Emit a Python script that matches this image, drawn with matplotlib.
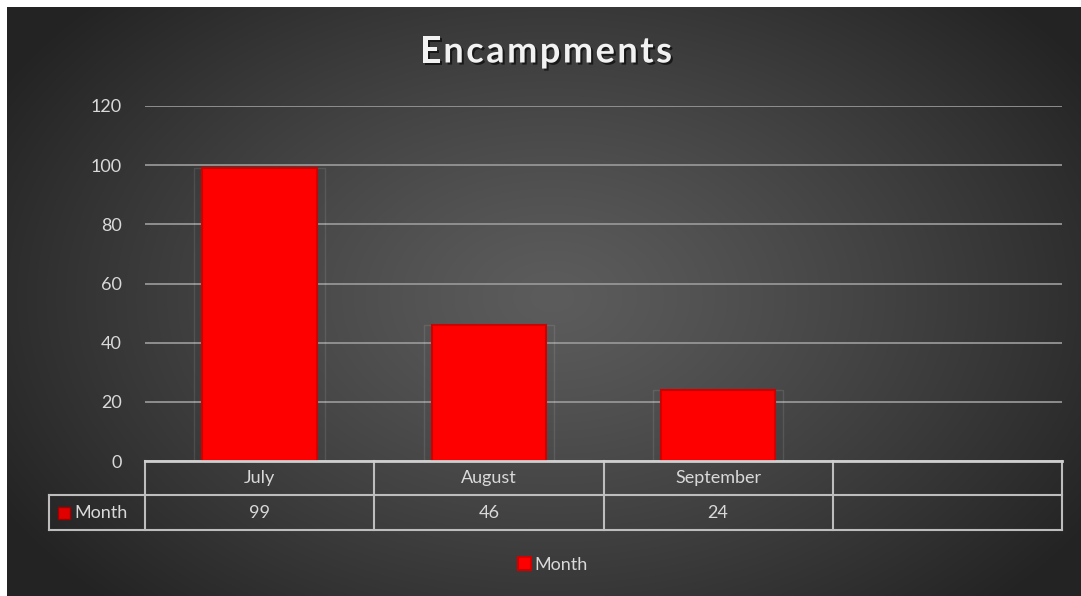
import matplotlib.pyplot as plt
import matplotlib.patheffects as pe
import numpy as np

# chart data
categories = ["July", "August", "September", ""]
values = [99, 46, 24]
series_name = "Month"
title = "Encampments"
y_ticks = [0, 20, 40, 60, 80, 100, 120]

plt.rcParams['font.family'] = ['Lato', 'DejaVu Sans']

W, H = 1081, 596
fig = plt.figure(figsize=(W / 100, H / 100), dpi=100)
fig.patch.set_facecolor('white')

# dark radial gradient background (white strip on top / left like the original)
bg = fig.add_axes([7 / W, 0, (W - 7) / W, (H - 7) / H])
bg.axis('off')
yy, xx = np.mgrid[0:589, 0:1074]
r = np.sqrt(((xx - 545) / 640) ** 2 + ((yy - 290) / 430) ** 2)
r = np.clip(r, 0, 1)
shade = (92 - 57 * r ** 1.2) / 255
bg.imshow(np.dstack([shade, shade, shade]), aspect='auto', extent=[0, 1, 0, 1])
bg.set_xlim(0, 1)
bg.set_ylim(0, 1)

# plot area
ax = fig.add_axes([145 / W, (H - 461) / H, (1062 - 145) / W, 355 / H])
ax.patch.set_alpha(0)
ax.set_xlim(-0.5, len(categories) - 0.5)
ax.set_ylim(0, 120)
for s in ax.spines.values():
    s.set_visible(False)

fs = 13
ax.set_yticks(y_ticks)
ax.tick_params(left=False, bottom=False, labelbottom=False,
               labelcolor='#d9d9d9', labelsize=fs, pad=13)
ax.yaxis.grid(True, color='#959595', lw=1.3, zorder=0)
ax.set_axisbelow(True)

x = np.arange(len(values))
ax.bar(x, values, width=0.57, facecolor='none', edgecolor=(1, 1, 1, 0.1), lw=1, zorder=2)
ax.bar(x, values, width=0.5, color='#ff0000', edgecolor='#d00000', lw=1.5, zorder=3,
       label=series_name)

# data table under the axis
tr = ax.get_xaxis_transform()
h1 = -34 / 355
h2 = -69 / 355
x_lab = -0.5 - 96 / 229.25
x_end = len(categories) - 0.5
lc = '#bdbdbd'
ax.plot([-0.5, x_end], [0, 0], color='#cfcfcf', lw=2, transform=tr, clip_on=False, zorder=4)
ax.plot([x_lab, x_end], [h1, h1], color=lc, lw=1.5, transform=tr, clip_on=False)
ax.plot([x_lab, x_end], [h2, h2], color=lc, lw=1.5, transform=tr, clip_on=False)
for xb in np.arange(-0.5, len(categories), 1.0):
    ax.plot([xb, xb], [h2, 0], color=lc, lw=1.5, transform=tr, clip_on=False)
ax.plot([x_lab, x_lab], [h2, h1], color=lc, lw=1.5, transform=tr, clip_on=False)

for i, c in enumerate(categories):
    ax.text(i, h1 / 2, c, ha='center', va='center', color='#d9d9d9',
            fontsize=fs, transform=tr)
for i, v in enumerate(values):
    ax.text(i, (h1 + h2) / 2, str(v), ha='center', va='center', color='#d9d9d9',
            fontsize=fs, transform=tr)

ax.plot([-0.5 - 81 / 229.25], [(h1 + h2) / 2], marker='s', ms=8.5, color='#e00000',
        mec='#a00000', transform=tr, clip_on=False)
ax.text(-0.5 - 71 / 229.25, (h1 + h2) / 2, series_name, ha='left', va='center',
        color='#d9d9d9', fontsize=fs, transform=tr)

# legend
leg = fig.legend(loc='center', bbox_to_anchor=(553 / W, (H - 565) / H), frameon=False,
                 fontsize=fs, handlelength=0.7, handleheight=0.7, handletextpad=0.2,
                 labelcolor='#d9d9d9')

# title with letter spacing and shadow
renderer = fig.canvas.get_renderer()
tkw = dict(fontsize=26, fontweight='bold', color='#f2f2f2', va='center', ha='left')
widths = []
for ch in title:
    t = fig.text(0, 0, ch, **tkw)
    widths.append(t.get_window_extent(renderer).width)
    t.remove()
gap = 2.5
total = sum(widths) + gap * (len(title) - 1)
xpos = 546 - total / 2
for ch, w in zip(title, widths):
    fig.text(xpos / W, (H - 52) / H, ch, **tkw,
             path_effects=[pe.withSimplePatchShadow(offset=(1.5, -1.5),
                                                    shadow_rgbFace='black', alpha=0.6)])
    xpos += w + gap

fig.savefig('out.png', dpi=100)
